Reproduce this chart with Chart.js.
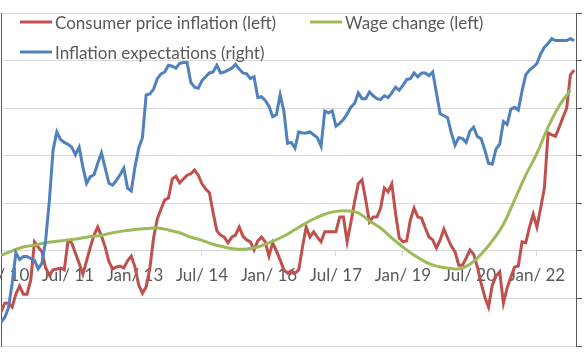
<!DOCTYPE html>
<html><head><meta charset="utf-8">
<script src="https://cdn.jsdelivr.net/npm/chart.js@4"></script>
<style>html,body{margin:0;padding:0;background:#fff;overflow:hidden}#wrap{position:relative;width:585px;height:363px}</style>
</head><body><div id="wrap"><canvas id="c" width="585" height="363"></canvas></div>
<script>
// Monthly data, Jan 2010 (month 0) to Nov 2022 (month 154)
const tickLabels = ["Jan/ 10","Jul/ 11","Jan/ 13","Jul/ 14","Jan/ 16","Jul/ 17","Jan/ 19","Jul/ 20","Jan/ 22"];
const seriesNames = ["Consumer price inflation (left)","Wage change (left)","Inflation expectations (right)"];
const cpi = [
-1.29,-1.10,-1.10,-1.18,-0.91,-0.74,-0.91,-0.91,-0.61,0.19,
0.08,-0.02,-0.36,-0.51,-0.40,-0.38,-0.36,-0.40,0.21,0.17,
-0.05,-0.26,-0.49,-0.21,0.08,0.33,0.50,0.31,0.08,-0.23,
-0.38,-0.34,-0.32,-0.36,-0.21,-0.11,-0.34,-0.72,-0.89,-0.76,
-0.36,0.27,0.67,0.88,1.07,1.11,1.51,1.57,1.43,1.51,
1.59,1.62,1.70,1.59,1.41,1.30,1.22,0.80,0.42,0.33,
0.29,0.17,0.29,0.33,0.50,0.31,0.23,0.19,0.02,0.21,
0.29,0.19,-0.11,0.17,0.00,-0.19,-0.40,-0.47,-0.42,-0.47,
-0.40,0.08,0.50,0.29,0.40,0.29,0.19,0.40,0.40,0.40,
0.40,0.71,0.71,0.19,0.59,1.03,1.41,1.49,1.07,0.61,
0.71,0.71,0.90,1.32,1.24,1.41,0.80,0.27,0.19,0.21,
0.65,0.90,0.71,0.69,0.48,0.29,0.23,0.06,0.23,0.46,
0.27,0.10,-0.02,-0.30,-0.30,-0.15,0.02,-0.07,-0.34,-0.68,
-0.97,-1.18,-0.72,-0.53,-0.44,-1.10,-0.78,-0.55,-0.34,-0.32,
0.19,0.17,0.50,0.77,0.50,0.90,1.32,2.48,2.44,2.41,
2.60,2.81,3.00,3.70,3.80];
const expectations = [
0.25,0.30,0.40,0.66,0.98,0.91,0.94,0.94,0.92,0.90,
0.81,0.87,1.11,1.53,2.06,2.25,2.17,2.14,2.12,2.09,
2.01,2.09,1.88,1.71,1.78,1.80,1.92,2.03,1.87,1.71,
1.69,1.74,1.80,1.87,1.66,1.63,1.88,2.08,2.19,2.64,
2.65,2.70,2.81,2.86,2.88,2.95,2.94,2.92,2.97,2.98,
2.98,2.77,2.72,2.71,2.79,2.83,2.87,2.88,2.95,2.87,
2.88,2.90,2.92,2.96,2.91,2.87,2.86,2.81,2.83,2.61,
2.62,2.58,2.52,2.41,2.43,2.64,2.47,2.13,2.14,2.08,
2.25,2.24,2.24,2.25,2.22,2.19,2.10,2.47,2.45,2.47,
2.31,2.34,2.38,2.44,2.51,2.55,2.66,2.60,2.60,2.67,
2.63,2.60,2.59,2.63,2.61,2.66,2.72,2.69,2.74,2.80,
2.81,2.87,2.83,2.87,2.87,2.84,2.88,2.66,2.44,2.42,
2.40,2.24,2.11,2.19,2.18,2.14,2.26,2.30,2.20,2.18,
2.06,1.92,1.91,2.07,2.12,2.36,2.33,2.49,2.51,2.48,
2.68,2.85,2.90,2.93,2.97,3.07,3.14,3.18,3.23,3.21,
3.21,3.21,3.21,3.23,3.21];
// Wage change, quarterly (every 3rd month from month 0)
const wageStep = 3;
const wage = [
-0.09,0.00,0.08,0.12,0.17,0.20,0.23,0.26,0.30,0.33,
0.38,0.42,0.45,0.47,0.48,0.44,0.38,0.29,0.22,0.14,
0.08,0.04,0.04,0.08,0.17,0.27,0.40,0.54,0.67,0.77,
0.83,0.84,0.80,0.63,0.48,0.27,0.08,-0.09,-0.23,-0.32,
-0.36,-0.38,-0.28,-0.07,0.21,0.56,1.07,1.59,2.05,2.60,
3.05,3.38];

const FONT = 'Lato';
const TEXT = '#595959';
const pts = (arr, step) => arr.map((v, i) => ({x: i * step, y: v}));

const legendPlugin = {
  id: 'excelLegend',
  afterDraw(chart, args, opts) {
    const ctx = chart.ctx;
    ctx.save();
    ctx.font = opts.fontSize + 'px ' + FONT;
    ctx.fillStyle = TEXT;
    ctx.textBaseline = 'alphabetic';
    opts.items.forEach(it => {
      const ds = chart.data.datasets[it.ds];
      ctx.strokeStyle = ds.borderColor;
      ctx.lineWidth = 3;
      ctx.beginPath();
      ctx.moveTo(it.x, it.y);
      ctx.lineTo(it.x + opts.lineLen, it.y);
      ctx.stroke();
      ctx.fillText(ds.label, it.x + opts.lineLen + opts.gap, it.y + opts.textDy);
    });
    ctx.restore();
  }
};

new Chart(document.getElementById('c'), {
  type: 'line',
  data: {
    datasets: [
      {label: seriesNames[0], data: pts(cpi, 1), borderColor: '#C0504D', borderWidth: 3, pointRadius: 0, yAxisID: 'yL', order: 2, tension: 0},
      {label: seriesNames[1], data: pts(wage, wageStep), borderColor: '#9BBB59', borderWidth: 3, pointRadius: 0, yAxisID: 'yL', order: 1, tension: 0.4},
      {label: seriesNames[2], data: pts(expectations, 1), borderColor: '#4F81BD', borderWidth: 3, pointRadius: 0, yAxisID: 'yR', order: 0, tension: 0}
    ]
  },
  options: {
    responsive: false,
    animation: false,
    events: [],
    layout: {padding: {top: 13, bottom: 17, left: 0, right: 0}},
    plugins: {
      legend: {display: false},
      tooltip: {enabled: false},
      excelLegend: {
        fontSize: 17, lineLen: 32, gap: 3, textDy: 7,
        items: [{ds: 0, x: 20, y: 22}, {ds: 1, x: 310, y: 22}, {ds: 2, x: 20, y: 52}]
      }
    },
    scales: {
      x: {
        type: 'linear', min: 0, max: 154.5,
        position: {yL: 0},
        grid: {drawOnChartArea: false, drawTicks: true, tickLength: 5, color: '#d9d9d9'},
        border: {display: true, color: '#d9d9d9', width: 1},
        ticks: {stepSize: 18, includeBounds: false, autoSkip: false, maxRotation: 0, minRotation: 0,
          color: TEXT, font: {family: FONT, size: 17}, padding: 9,
          callback: v => tickLabels[Math.round(v / 18)]},
        afterFit: s => { s.paddingLeft = 0; s.paddingRight = 0; }
      },
      yL: {
        position: 'left', min: -2, max: 5,
        ticks: {stepSize: 1, display: false},
        grid: {color: '#d9d9d9', drawTicks: false},
        border: {display: true, color: '#595959', width: 1},
        afterFit: s => { s.width = 1; }
      },
      yR: {
        position: 'right', min: 0, max: 3.5,
        ticks: {stepSize: 0.5, display: false},
        grid: {drawOnChartArea: false, drawTicks: true, tickLength: 6, color: '#595959'},
        border: {display: true, color: '#595959', width: 1},
        afterFit: s => { s.width = 9; }
      }
    }
  },
  plugins: [legendPlugin]
});
</script></body></html>
